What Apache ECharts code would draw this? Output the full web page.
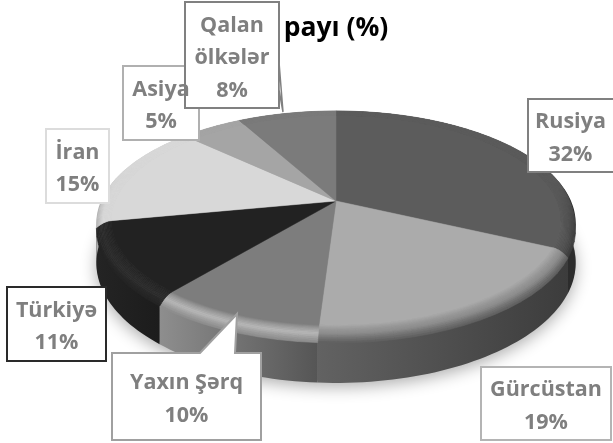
<!DOCTYPE html>
<html>
<head>
<meta charset="utf-8">
<style>html,body{margin:0;padding:0;background:#fff}#chart{width:613px;height:443px}</style>
<script src="https://cdn.jsdelivr.net/npm/echarts@6/dist/echarts.min.js"></script>
</head>
<body>
<div id="chart"></div>
<script>
const names = ['Rusiya', 'Gürcüstan', 'Yaxın Şərq', 'Türkiyə', 'İran', 'Asiya', 'Qalan\nölkələr'];
const shares = [32, 19, 10, 11, 15, 5, 8];
const titleText = 'payı (%)';

// top face, bevel highlight, wall left -> right
const topColors = ['#5c5c5c', '#ababab', '#7d7d7d', '#222222', '#d8d8d8', '#a5a5a5', '#7b7b7b'];
const hiColors = ['#505050', '#8c8c8c', '#b8b8b8', '#2c2c2c', '#d8d8d8', '#a5a5a5', '#7b7b7b'];
const wallColors = [
    ['#3e3e3e', '#2c2c2c'],
    ['#626262', '#3c3c3c'],
    ['#8e8e8e', '#555555'],
    ['#242424', '#1c1c1c'],
    ['#b0b0b0', '#b0b0b0'],
    ['#909090', '#909090'],
    ['#666666', '#666666']
];
const borderColors = ['#808080', '#b4b4b4', '#a0a0a0', '#2a2a2a', '#dcdcdc', '#b0b0b0', '#808080'];

// label boxes: x0, y0, x1, y1, then optional callout points on the top edge
const boxes = [
    [528, 99, 616, 172],
    [481, 367, 611, 440],
    [112, 353, 261, 440, [[200, 353], [237, 314], [235, 353]]],
    [7, 287, 106, 361],
    [46, 129, 109, 203],
    [123, 66, 199, 140],
    [185, 2, 279, 108]
];

// perspective of the disc
const CX = 336, CY = 201, RX = 235, RY = 107.7, P = 0.196, DEPTH = 48, BEVEL = 8, INNER = 0.94;

function project(deg, r, z) {
    const a = deg * Math.PI / 180;
    const u = Math.sin(a) * r, v = -Math.cos(a) * r;
    const s = 1 / (1 - P * v);
    return [CX + RX * u * s, CY + RY * v * s + z * s * (1 - P)];
}

function arc(a0, a1, r, z) {
    const pts = [];
    const n = Math.max(2, Math.ceil((a1 - a0) / 1.5));
    for (let i = 0; i <= n; i++) {
        pts.push(project(a0 + (a1 - a0) * i / n, r, z));
    }
    return pts;
}

function hex(c) {
    return [1, 3, 5].map(i => parseInt(c.substr(i, 2), 16));
}
function mix(a, b, t) {
    return a.map((v, i) => v + (b[i] - v) * t);
}
function css(c) {
    return 'rgb(' + c.map(Math.round).join(',') + ')';
}

// how much of the bevel shows at this angle: none along the back edge
function frontness(deg) {
    const v = -Math.cos(deg * Math.PI / 180);
    const t = Math.min(1, Math.max(0, (v + 0.25) / 0.55));
    return t * t * (3 - 2 * t);
}

let sum = 0;
const sliceData = shares.map((v, i) => {
    const start = sum;
    sum += v;
    return [start, sum, i];
});
const total = sum;
const toDeg = v => v / total * 360;

function renderWall(params, api) {
    const a0 = toDeg(api.value(0)), a1 = toDeg(api.value(1)), i = api.value(2);
    const x0 = project(a0, 1, 0)[0], x1 = project(a1, 1, 0)[0];
    const fill = {
        type: 'linear', global: true,
        x: Math.min(x0, x1), y: 0, x2: Math.max(x0, x1) + 1, y2: 0,
        colorStops: [{offset: 0, color: wallColors[i][0]}, {offset: 1, color: wallColors[i][1]}]
    };
    const pts = arc(a0, a1, 1, 0).concat(arc(a0, a1, 1, DEPTH).reverse());
    return {type: 'polygon', shape: {points: pts}, style: {fill: fill}};
}

function renderTop(params, api) {
    const a0 = toDeg(api.value(0)), a1 = toDeg(api.value(1)), i = api.value(2);
    const top = hex(topColors[i]), hi = hex(hiColors[i]), wall = hex(wallColors[i][0]);
    const children = [];
    const steps = 12;
    const segs = Math.max(1, Math.ceil((a1 - a0) / 4));
    // bevel band in small pieces, from the wall towards the top face
    for (let n = 0; n < segs; n++) {
        const b0 = a0 + (a1 - a0) * n / segs, b1 = a0 + (a1 - a0) * (n + 1) / segs;
        const w = frontness((b0 + b1) / 2);
        const w0 = frontness(b0), w1 = frontness(b1);
        for (let k = steps; k > 0; k--) {
            const t0 = (k - 1) / steps, t1 = k / steps;
            const col = t1 < 0.62 ? mix(top, hi, t1 / 0.62) : mix(hi, wall, (t1 - 0.62) / 0.38);
            const r0 = INNER + (1 - INNER) * t0, r1 = INNER + (1 - INNER) * t1;
            const fill = css(mix(top, col, w));
            const pts = [
                project(b0, r0, BEVEL * t0 * t0 * w0), project(b1, r0, BEVEL * t0 * t0 * w1),
                project(b1, r1, BEVEL * t1 * t1 * w1), project(b0, r1, BEVEL * t1 * t1 * w0)
            ];
            children.push({type: 'polygon', shape: {points: pts}, style: {fill: fill, stroke: fill, lineWidth: 0.6}});
        }
    }
    const face = [[CX, CY]].concat(arc(a0, a1, INNER, 0));
    children.push({type: 'polygon', shape: {points: face}, style: {fill: topColors[i], stroke: topColors[i], lineWidth: 0.5}});
    return {type: 'group', children: children};
}

function renderShadow() {
    return {
        type: 'polygon',
        shape: {points: arc(0, 360, 1, DEPTH - 2)},
        style: {fill: '#888888', shadowColor: 'rgba(0,0,0,0.32)', shadowBlur: 16, shadowOffsetY: 6}
    };
}

function boxPoints(b) {
    const pts = [[b[0], b[1]]];
    if (b[4]) {
        pts.push(...b[4]);
    }
    pts.push([b[2], b[1]], [b[2], b[3]], [b[0], b[3]]);
    return pts;
}

const graphics = [{
    type: 'text', z: 5, style: {
        x: 336, y: 28, text: titleText, fill: '#000000', align: 'center', verticalAlign: 'middle',
        font: 'bold 26.5px "Open Sans"'
    }
}];
boxes.forEach((b, i) => {
    graphics.push({
        type: 'polygon', z: 10 + i, shape: {points: boxPoints(b)},
        style: {fill: '#ffffff', stroke: borderColors[i], lineWidth: 2}
    });
    if (i === 6) {
        // thin pointer of the Qalan ölkələr box
        graphics.push({
            type: 'polygon', z: 10 + i, shape: {points: [[279, 62], [283, 112], [279, 90]]},
            style: {fill: '#ffffff', stroke: borderColors[i], lineWidth: 1.5}
        });
    }
    graphics.push({
        type: 'text', z: 30 + i, style: {
            x: (b[0] + Math.min(b[2], 613)) / 2, y: (b[1] + b[3]) / 2 + 3,
            text: names[i] + '\n' + shares[i] + '%',
            fill: '#7f7f7f', align: 'center', verticalAlign: 'middle',
            font: 'bold 21.5px "Open Sans"', lineHeight: 32.5
        }
    });
});

const chart = echarts.init(document.getElementById('chart'), null, {renderer: 'canvas'});
chart.setOption({
    animation: false,
    backgroundColor: '#ffffff',
    tooltip: {show: false},
    series: [
        {type: 'custom', coordinateSystem: 'none', z: 1, silent: true, data: [[0]], renderItem: renderShadow},
        {type: 'custom', coordinateSystem: 'none', z: 2, silent: true, data: sliceData, renderItem: renderWall},
        {type: 'custom', coordinateSystem: 'none', z: 3, silent: true, data: sliceData, renderItem: renderTop}
    ],
    graphic: graphics
});
</script>
</body>
</html>
